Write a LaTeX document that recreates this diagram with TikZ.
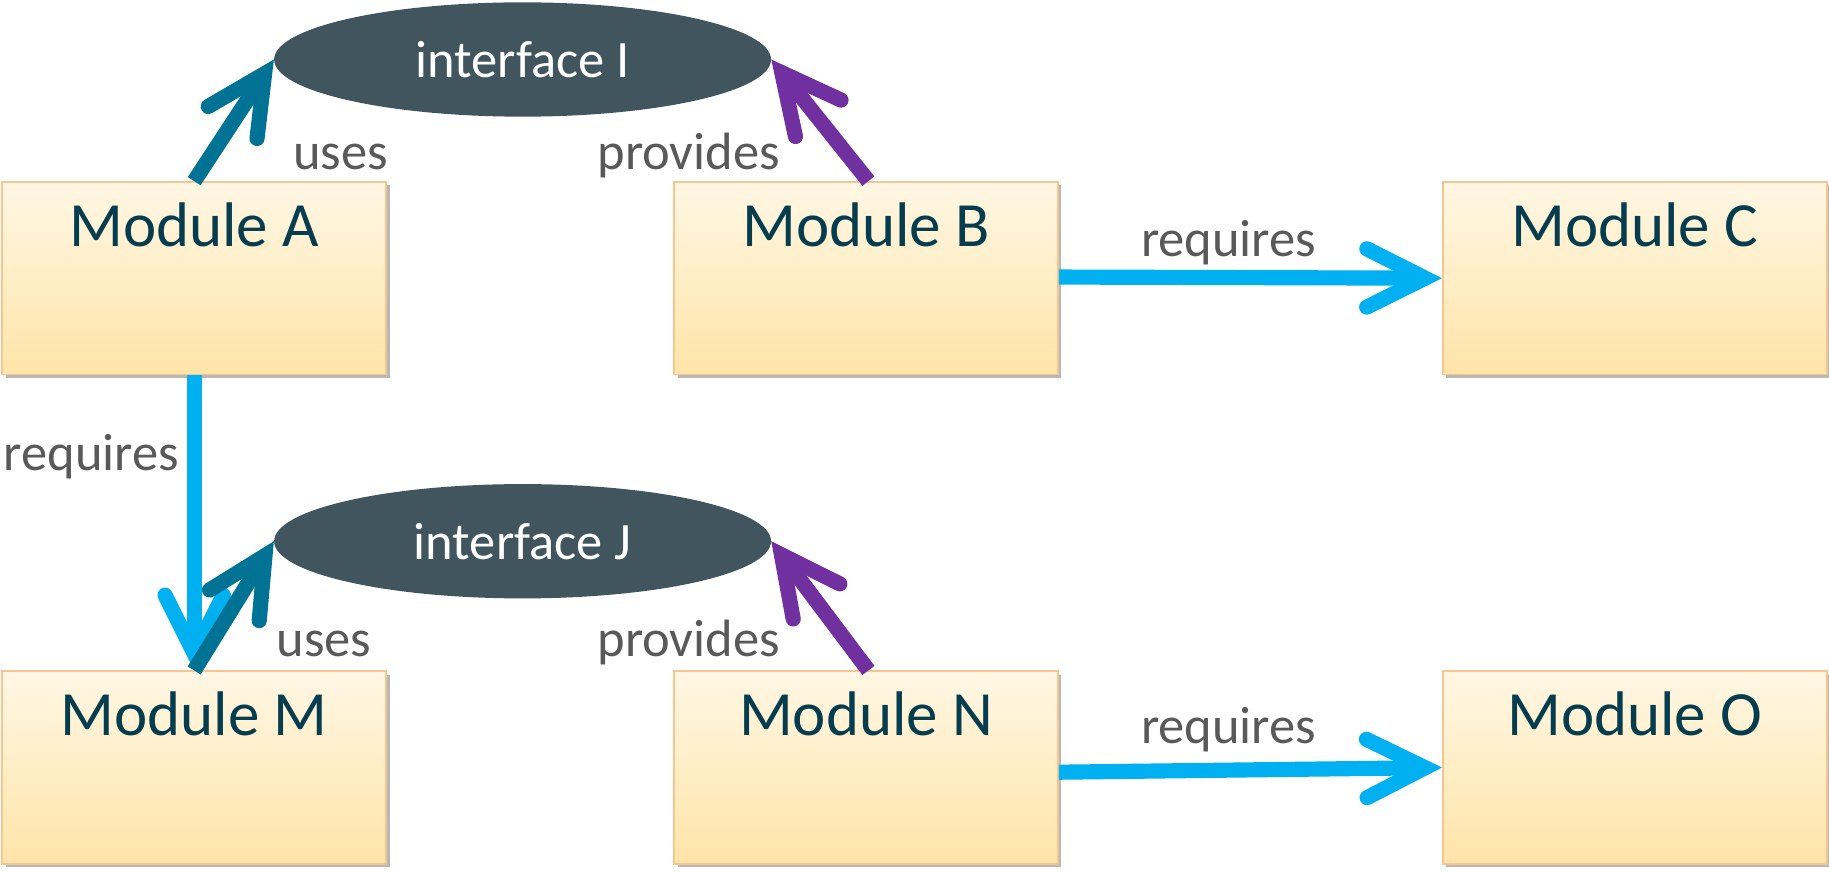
\documentclass[tikz,border=0pt]{standalone}
\usepackage{fontspec}
\setmainfont{Carlito}
\usetikzlibrary{arrows.meta,shapes.geometric,shadows,calc}
\definecolor{boxtop}{RGB}{255,247,228}
\definecolor{boxbot}{RGB}{255,228,168}
\definecolor{boxborder}{RGB}{249,197,142}
\definecolor{ifacefill}{RGB}{65,85,94}
\definecolor{modtext}{RGB}{5,60,78}
\definecolor{labtext}{RGB}{89,89,89}
\definecolor{usescol}{RGB}{0,114,148}
\definecolor{provcol}{RGB}{112,48,160}
\definecolor{reqcol}{RGB}{0,176,240}
\tikzset{
  module/.style={rectangle, draw=boxborder, line width=1.5pt, top color=boxtop, bottom color=boxbot,
    minimum width=329pt, minimum height=165pt, inner sep=0pt,
    drop shadow={shadow xshift=3pt, shadow yshift=-3pt, fill=black, opacity=0.28}},
  mtext/.style={font=\fontsize{54}{60}\selectfont, text=modtext, anchor=base, yshift=-56pt},
  iface/.style={ellipse, fill=ifacefill, minimum width=426pt, minimum height=98pt, inner sep=0pt,
    text=white, font=\fontsize{45}{50}\selectfont},
  lab/.style={font=\fontsize{45}{50}\selectfont, text=labtext, anchor=base west, inner sep=0pt},
  conn/.style={line width=13pt, -{Straight Barb[length=50pt,width=50pt,line cap=round,line join=miter]}},
  usesarrow/.style={conn, draw=usescol},
  provarrow/.style={conn, draw=provcol},
  reqarrow/.style={conn, draw=reqcol},
}
\begin{document}
\begin{tikzpicture}[x=1pt,y=-1pt]
\useasboundingbox (0,0) rectangle (1568,748);
% modules
\node[module, label={[mtext]north:Module A}] (A) at (166.5,238.5) {};
\node[module, label={[mtext]north:Module B}] (B) at (742.5,238.5) {};
\node[module, label={[mtext]north:Module C}] (C) at (1401.5,238.5) {};
\node[module, label={[mtext]north:Module M}] (M) at (166.5,658) {};
\node[module, label={[mtext]north:Module N}] (N) at (742.5,658) {};
\node[module, label={[mtext]north:Module O}] (O) at (1401.5,658) {};
% interfaces
\node[iface] (I) at (448,51) {interface I};
\node[iface] (J) at (448,464) {interface J};
% connectors
\draw[reqarrow] (A.south) -- (M.north);
\draw[usesarrow] (A.north) -- (I.west);
\draw[provarrow] ($(B.north)+(2,0)$) -- (I.east);
\draw[reqarrow] ($(B.east)+(0,-1)$) -- (C.west);
\draw[usesarrow] (M.north) -- (J.west);
\draw[provarrow] ($(N.north)+(2,0)$) -- (J.east);
\draw[reqarrow] ($(N.east)+(0,4)$) -- (O.west);
% labels
\node[lab] (l1) at (251,145) {uses};
\node[lab] (l2) at (512,145) {provides};
\node[lab] (l3) at (978,220) {requires};
\node[lab] (l4) at (3,403) {requires};
\node[lab] (l5) at (237,563) {uses};
\node[lab] (l6) at (512,563) {provides};
\node[lab] (l7) at (978,637) {requires};
\end{tikzpicture}
\end{document}
